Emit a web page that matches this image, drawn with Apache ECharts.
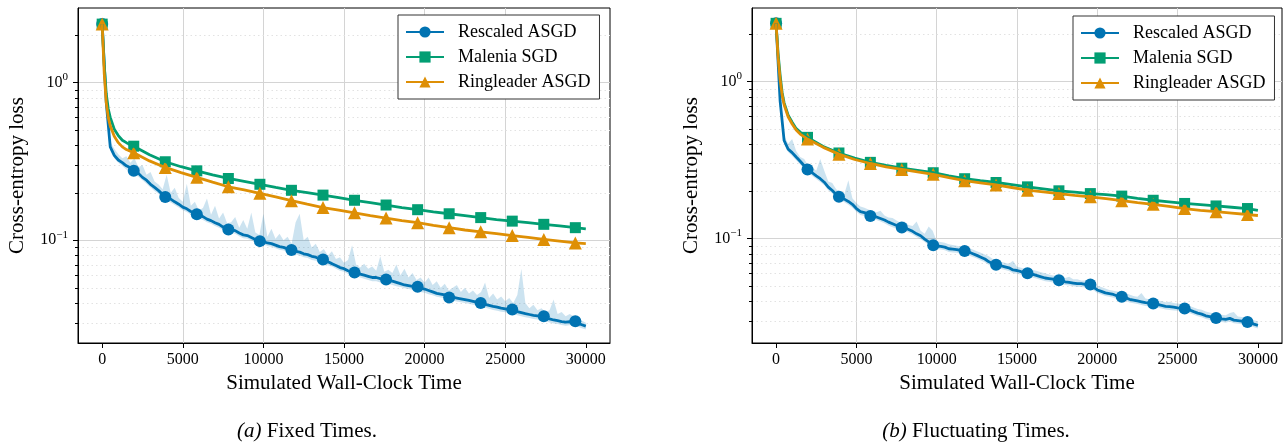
<!DOCTYPE html>
<html>
<head>
<meta charset="utf-8">
<script src="https://cdn.jsdelivr.net/npm/echarts@6/dist/echarts.min.js"></script>
<style>
html,body{margin:0;padding:0;background:#fff;}
#chart{width:1284px;height:444px;}
</style>
</head>
<body>
<div id="chart"></div>
<script>
// ---------------- data ----------------
const SERIES_NAMES = ['Rescaled ASGD', 'Malenia SGD', 'Ringleader ASGD'];
const CAPTION_TAGS = ['(a)', '(b)'];
const CAPTION_TEXTS = [' Fixed Times.', ' Fluctuating Times.'];
const X_LABEL = 'Simulated Wall-Clock Time';
const Y_LABEL = 'Cross-entropy loss';
const X_TICKS = [0, 5000, 10000, 15000, 20000, 25000, 30000];
const X_RANGE = [-1500, 31500];
const Y_RANGE_A = [0.0223, 2.96];
const Y_RANGE_B = [0.0216, 2.93];
const Y_MAJOR = [0.1, 1];
const Y_MINOR = [0.03, 0.04, 0.05, 0.06, 0.07, 0.08, 0.09, 0.2, 0.3, 0.4, 0.5, 0.6, 0.7, 0.8, 0.9, 2];

// time grid of the noisy (Rescaled ASGD) runs: every 250 time units
const NOISY_T = [];
for (let i = 0; i <= 120; i++) NOISY_T.push(i * 250);
// time grid of the smooth runs
const SMOOTH_T = [0, 125, 250, 375, 500, 750, 1000, 1250, 1500,
  1957, 2935, 3913, 4892, 5870, 6848, 7827, 8805, 9783, 10762, 11740, 12718, 13697, 14675,
  15653, 16632, 17610, 18588, 19567, 20545, 21523, 22502, 23480, 24458, 25437, 26415, 27393,
  28372, 29350, 30000];
// times where markers are drawn
const MARK_T = [0, 1957, 3913, 5870, 7827, 9783, 11740, 13697, 15653, 17610, 19567, 21523,
  23480, 25437, 27393, 29350];

// (a) Fixed Times
const A_RESCALED = [2.34,0.75,0.39,0.345,0.322,0.31,0.296,0.288,0.272,0.265,
0.25,0.24,0.226,0.216,0.206,0.195,0.187,0.182,0.175,0.169,
0.162,0.158,0.152,0.148,0.144,0.141,0.136,0.133,0.129,0.126,
0.121,0.118,0.116,0.115,0.111,0.108,0.107,0.104,0.101,0.099,
0.098,0.096,0.095,0.093,0.091,0.09,0.088,0.086,0.085,0.084,
0.082,0.081,0.079,0.078,0.076,0.075,0.073,0.071,0.069,0.067,
0.066,0.064,0.063,0.062,0.061,0.06,0.059,0.058,0.058,0.057,
0.056,0.0555,0.055,0.054,0.053,0.052,0.0515,0.051,0.0505,0.0497,
0.049,0.048,0.047,0.046,0.0455,0.045,0.044,0.0435,0.043,0.0425,
0.042,0.0415,0.041,0.0405,0.04,0.0392,0.0386,0.038,0.0376,0.0371,
0.0367,0.0363,0.036,0.0352,0.0347,0.0342,0.0338,0.0334,0.0331,0.0327,
0.0322,0.0317,0.0312,0.0309,0.0305,0.0302,0.0304,0.0306,0.0298,0.0291,
0.0285];
const A_RESCALED_HI = [2.36,0.8,0.42,0.38,0.35,0.33,0.34,0.31,0.33,0.29,
0.3,0.26,0.27,0.235,0.225,0.21,0.26,0.2,0.215,0.185,
0.175,0.228,0.165,0.175,0.155,0.16,0.184,0.145,0.165,0.137,
0.15,0.128,0.13,0.14,0.12,0.134,0.118,0.15,0.112,0.108,
0.147,0.105,0.118,0.102,0.11,0.1,0.105,0.095,0.13,0.147,
0.1,0.105,0.09,0.095,0.084,0.088,0.08,0.085,0.076,0.078,
0.072,0.075,0.093,0.07,0.067,0.071,0.066,0.068,0.064,0.079,
0.063,0.065,0.062,0.07,0.06,0.066,0.058,0.062,0.056,0.058,
0.054,0.058,0.052,0.055,0.05,0.053,0.048,0.05,0.052,0.047,
0.05,0.046,0.048,0.045,0.047,0.054,0.043,0.046,0.042,0.044,
0.041,0.043,0.04,0.045,0.066,0.04,0.037,0.039,0.036,0.037,
0.035,0.036,0.042,0.034,0.035,0.033,0.034,0.033,0.032,0.031,
0.03];
const A_RESCALED_LO = [2.32,0.7,0.37,0.33,0.31,0.295,0.28,0.27,0.26,0.252,
0.24,0.228,0.216,0.205,0.196,0.186,0.178,0.173,0.167,0.161,
0.155,0.151,0.145,0.141,0.137,0.134,0.13,0.127,0.123,0.12,
0.116,0.113,0.111,0.11,0.106,0.103,0.102,0.1,0.097,0.095,
0.094,0.092,0.091,0.089,0.087,0.086,0.084,0.082,0.081,0.08,
0.078,0.077,0.075,0.074,0.072,0.071,0.069,0.068,0.066,0.064,
0.063,0.061,0.06,0.059,0.058,0.057,0.056,0.055,0.055,0.054,
0.053,0.053,0.052,0.051,0.0505,0.0495,0.049,0.0485,0.048,0.047,
0.0465,0.0455,0.0447,0.0438,0.0433,0.0428,0.0418,0.0413,0.0408,0.0404,
0.04,0.0395,0.039,0.0385,0.038,0.0373,0.0367,0.0361,0.0357,0.0352,
0.0349,0.0345,0.0342,0.0334,0.033,0.0325,0.0321,0.0317,0.0314,0.0311,
0.0306,0.0301,0.0296,0.0294,0.029,0.0287,0.0289,0.0291,0.0283,0.0277,
0.0272];
const A_RESCALED_MARK = [2.34,0.275,0.188,0.146,0.117,0.0986,0.0865,0.0755,0.0624,0.0563,0.0506,0.0433,0.04,0.0364,0.033,0.0306];
const A_MALENIA = [2.34,1.3,0.85,0.68,0.6,0.505,0.46,0.43,0.415,
0.394,0.348,0.314,0.292,0.275,0.259,0.246,0.236,0.226,0.216,
0.207,0.2,0.193,0.186,0.179,0.173,0.167,0.161,0.156,0.151,
0.147,0.143,0.139,0.135,0.132,0.129,0.126,0.123,0.12,
0.118];
const A_RINGLEADER = [2.34,1.15,0.75,0.6,0.53,0.455,0.415,0.39,0.375,
0.358,0.318,0.289,0.268,0.25,0.233,0.218,0.208,0.198,0.188,
0.178,0.169,0.161,0.155,0.149,0.143,0.138,0.133,0.129,0.124,
0.12,0.116,0.113,0.11,0.107,0.104,0.101,0.0985,0.096,
0.095];

// (b) Fluctuating Times
const B_RESCALED = [2.34,0.75,0.42,0.37,0.352,0.33,0.31,0.29,0.274,0.262,
0.25,0.24,0.228,0.212,0.202,0.19,0.184,0.178,0.172,0.165,
0.155,0.148,0.146,0.142,0.14,0.137,0.134,0.131,0.127,0.124,
0.121,0.118,0.117,0.114,0.111,0.107,0.104,0.099,0.095,0.091,
0.0895,0.089,0.088,0.086,0.0855,0.085,0.084,0.0833,0.082,0.08,
0.078,0.076,0.074,0.071,0.069,0.068,0.067,0.066,0.065,0.063,
0.0625,0.0615,0.0608,0.0603,0.059,0.058,0.057,0.056,0.0555,0.055,
0.0545,0.054,0.053,0.0525,0.052,0.0515,0.0515,0.051,0.051,0.049,
0.047,0.046,0.045,0.0445,0.044,0.043,0.0425,0.042,0.041,0.0405,
0.04,0.0395,0.039,0.0388,0.0385,0.038,0.0375,0.037,0.0368,0.0365,
0.0362,0.036,0.0357,0.035,0.0342,0.0335,0.033,0.0322,0.0318,0.0313,
0.0312,0.0308,0.0305,0.031,0.0302,0.03,0.0298,0.0295,0.0292,0.0285,
0.028];
const B_RESCALED_HI = [2.36,0.82,0.45,0.4,0.43,0.36,0.33,0.32,0.29,0.285,
0.27,0.32,0.27,0.23,0.225,0.205,0.2,0.192,0.235,0.18,
0.168,0.16,0.157,0.153,0.15,0.147,0.15,0.14,0.136,0.135,
0.13,0.126,0.128,0.122,0.12,0.128,0.112,0.107,0.119,0.112,
0.096,0.095,0.094,0.092,0.091,0.09,0.089,0.088,0.087,0.085,
0.083,0.081,0.079,0.077,0.074,0.072,0.071,0.07,0.069,0.072,
0.066,0.065,0.064,0.064,0.063,0.062,0.061,0.06,0.059,0.058,
0.058,0.057,0.056,0.057,0.055,0.055,0.054,0.054,0.054,0.052,
0.05,0.049,0.048,0.047,0.0465,0.046,0.045,0.045,0.044,0.043,
0.0425,0.045,0.0415,0.041,0.0408,0.0403,0.04,0.0393,0.0395,0.0388,
0.0385,0.0382,0.0379,0.0372,0.0363,0.0356,0.0352,0.0343,0.0338,0.0333,
0.0331,0.0327,0.0324,0.0335,0.034,0.0318,0.0316,0.0313,0.031,0.0302,
0.0297];
const B_RESCALED_LO = [2.32,0.7,0.4,0.355,0.335,0.315,0.296,0.277,0.262,0.25,
0.239,0.229,0.218,0.203,0.193,0.181,0.176,0.17,0.164,0.157,
0.148,0.141,0.139,0.135,0.134,0.131,0.128,0.125,0.121,0.118,
0.115,0.113,0.112,0.109,0.106,0.102,0.099,0.095,0.091,0.087,
0.0855,0.085,0.084,0.082,0.0815,0.081,0.08,0.0795,0.078,0.0763,
0.0744,0.0725,0.0706,0.0677,0.0658,0.0649,0.0639,0.063,0.062,0.0601,
0.0596,0.0587,0.058,0.0575,0.0563,0.0553,0.0544,0.0534,0.053,0.0525,
0.052,0.0515,0.0506,0.0501,0.0496,0.0491,0.0491,0.0487,0.0487,0.0468,
0.0449,0.0439,0.043,0.0425,0.042,0.041,0.0406,0.0401,0.0391,0.0387,
0.0382,0.0377,0.0372,0.037,0.0368,0.0363,0.0358,0.0353,0.0351,0.0348,
0.0346,0.0344,0.0341,0.0334,0.0327,0.032,0.0315,0.0307,0.0303,0.0299,
0.0298,0.0294,0.0291,0.0296,0.0288,0.0286,0.0284,0.0281,0.0279,0.0272,
0.0267];
const B_RESCALED_MARK = [2.34,0.275,0.184,0.139,0.1175,0.0906,0.0833,0.0679,0.0601,0.0542,0.0509,0.0425,0.0385,0.0358,0.0312,0.0294];
const B_MALENIA = [2.34,1.5,1.1,0.85,0.73,0.61,0.55,0.5,0.475,
0.44,0.385,0.35,0.325,0.305,0.292,0.28,0.271,0.262,0.25,
0.24,0.233,0.227,0.22,0.213,0.207,0.201,0.197,0.193,0.19,
0.186,0.18,0.175,0.171,0.167,0.164,0.161,0.158,0.155,
0.151];
const B_RINGLEADER = [2.34,1.42,1.03,0.82,0.71,0.595,0.535,0.49,0.462,
0.429,0.38,0.344,0.318,0.3,0.285,0.275,0.265,0.256,0.244,
0.233,0.226,0.219,0.211,0.203,0.198,0.193,0.188,0.184,0.179,
0.174,0.169,0.165,0.16,0.155,0.151,0.148,0.145,0.142,
0.14];

// ---------------- styling ----------------
const FONT = '"Liberation Serif", "Times New Roman", serif';
const COLORS = ['#0173b2', '#029e73', '#de8f05'];
const SYMBOLS = ['circle', 'rect', 'triangle'];
const SYMBOL_SIZES = [12, 11, 13];
const BAND_COLOR = 'rgba(1,115,178,0.2)';
const GRID_COLOR = '#d4d4d4';
const MINOR_GRID_COLOR = '#e2e2e2';

const PANELS = [
  { left: 78, width: 532, yRange: Y_RANGE_A, legendLeft: 398, legendTop: 15, captionX: 307,
    rescaled: A_RESCALED, hi: A_RESCALED_HI, lo: A_RESCALED_LO, mark: A_RESCALED_MARK,
    malenia: A_MALENIA, ringleader: A_RINGLEADER },
  { left: 752, width: 530, yRange: Y_RANGE_B, legendLeft: 1073, legendTop: 16, captionX: 976,
    rescaled: B_RESCALED, hi: B_RESCALED_HI, lo: B_RESCALED_LO, mark: B_RESCALED_MARK,
    malenia: B_MALENIA, ringleader: B_RINGLEADER }
];

function logLabel(v) {
  const e = Math.log10(v);
  const r = Math.round(e);
  if (Math.abs(e - r) > 1e-6) return '';
  return '{b|10}{s|' + (r < 0 ? '\u2212' + (-r) : String(r)) + '}';
}

function pairs(ts, vs) { return ts.map((t, i) => [t, vs[i]]); }
function pick(ts, vs, marks) { return marks.map(t => [t, vs[ts.indexOf(t)]]); }

function bandSeries(p, hi, lo) {
  return {
    type: 'custom', xAxisIndex: p, yAxisIndex: p, silent: true, z: 1, clip: true,
    data: [[NOISY_T[0], hi[0]]],
    encode: { x: 0, y: 1 },
    renderItem: function (params, api) {
      const pts = [];
      for (let i = 0; i < NOISY_T.length; i++) pts.push(api.coord([NOISY_T[i], hi[i]]));
      for (let i = NOISY_T.length - 1; i >= 0; i--) pts.push(api.coord([NOISY_T[i], lo[i]]));
      return { type: 'polygon', shape: { points: pts }, style: { fill: BAND_COLOR, stroke: null } };
    }
  };
}

function yTickSeries(p, vals, len, withGrid) {
  return {
    type: 'custom', xAxisIndex: p, yAxisIndex: p, silent: true, z: 0, clip: false,
    data: vals.map(v => [X_RANGE[0], v]),
    encode: { x: 0, y: 1 },
    renderItem: function (params, api) {
      const cs = params.coordSys;
      const pt = api.coord([api.value(0), api.value(1)]);
      const y = Math.round(pt[1]) + 0.5;
      const children = [
        { type: 'line', shape: { x1: cs.x - len, y1: y, x2: cs.x, y2: y },
          style: { stroke: '#000', lineWidth: 1 } }
      ];
      if (withGrid) {
        children.push({ type: 'line', shape: { x1: cs.x, y1: y, x2: cs.x + cs.width, y2: y },
          style: { stroke: MINOR_GRID_COLOR, lineWidth: 1, lineDash: [1.5, 3] } });
      }
      return { type: 'group', children: children };
    }
  };
}

const grids = [], xAxes = [], yAxes = [], series = [], legends = [], titles = [];

PANELS.forEach((P, p) => {
  grids.push({ left: P.left, top: 8, width: P.width, height: 335, show: true,
    borderColor: '#000', borderWidth: 1, backgroundColor: 'transparent', containLabel: false });

  xAxes.push({
    gridIndex: p, type: 'value', min: X_RANGE[0], max: X_RANGE[1],
    name: X_LABEL, nameLocation: 'middle', nameGap: 30,
    nameTextStyle: { fontFamily: FONT, fontSize: 21, color: '#000' },
    axisLine: { show: true, onZero: false, lineStyle: { color: '#000', width: 1 } },
    axisTick: { show: true, customValues: X_TICKS, length: 5, lineStyle: { color: '#000', width: 1 } },
    axisLabel: { customValues: X_TICKS, formatter: v => String(v), fontFamily: FONT, fontSize: 16, color: '#000', margin: 9 },
    splitLine: { show: true, showMinLine: false, showMaxLine: false, lineStyle: { color: GRID_COLOR, width: 1 } }
  });

  yAxes.push({
    gridIndex: p, type: 'log', logBase: 10, min: P.yRange[0], max: P.yRange[1],
    name: Y_LABEL, nameLocation: 'middle', nameGap: 50,
    nameTextStyle: { fontFamily: FONT, fontSize: 21, color: '#000' },
    axisLine: { show: true, onZero: false, lineStyle: { color: '#000', width: 1 } },
    axisTick: { show: false },
    axisLabel: {
      formatter: logLabel, margin: 10, showMinLabel: true, showMaxLabel: true,
      rich: {
        b: { fontFamily: FONT, fontSize: 16, color: '#000' },
        s: { fontFamily: FONT, fontSize: 11, color: '#000', padding: [0, 0, 10, 0] }
      }
    },
    splitLine: { show: true, showMinLine: false, showMaxLine: false, lineStyle: { color: GRID_COLOR, width: 1 } }
  });

  series.push(yTickSeries(p, Y_MINOR, 3, true));
  series.push(yTickSeries(p, Y_MAJOR, 5, false));
  series.push(bandSeries(p, P.hi, P.lo));

  const lines = [
    { data: pairs(NOISY_T, P.rescaled), marks: pairs(MARK_T, P.mark) },
    { data: pairs(SMOOTH_T, P.malenia), marks: pick(SMOOTH_T, P.malenia, MARK_T) },
    { data: pairs(SMOOTH_T, P.ringleader), marks: pick(SMOOTH_T, P.ringleader, MARK_T) }
  ];
  lines.forEach((L, k) => {
    series.push({
      name: SERIES_NAMES[k], type: 'line', xAxisIndex: p, yAxisIndex: p,
      data: L.data, showSymbol: false, symbol: SYMBOLS[k], symbolSize: SYMBOL_SIZES[k],
      lineStyle: { color: COLORS[k], width: 2.8 }, itemStyle: { color: COLORS[k] },
      silent: true, clip: true
    });
    series.push({
      name: SERIES_NAMES[k] + ' markers', type: 'scatter', xAxisIndex: p, yAxisIndex: p,
      data: L.marks, symbol: SYMBOLS[k], symbolSize: SYMBOL_SIZES[k],
      itemStyle: { color: COLORS[k], opacity: 1 }, silent: true
    });
  });

  legends.push({
    data: SERIES_NAMES, orient: 'vertical', left: P.legendLeft, top: P.legendTop,
    padding: [8, 9, 8, 7], itemWidth: 38, itemHeight: 14, itemGap: 7,
    borderColor: '#333', borderWidth: 1, borderRadius: 0, backgroundColor: '#fff',
    selectedMode: false,
    textStyle: { fontFamily: FONT, fontSize: 18, color: '#000', padding: [0, 0, 0, 9] }
  });

  titles.push({
    text: '{i|' + CAPTION_TAGS[p] + '}{r|' + CAPTION_TEXTS[p] + '}',
    left: P.captionX, top: 421, textAlign: 'center', padding: 0,
    textStyle: {
      fontWeight: 'normal',
      rich: {
        i: { fontFamily: FONT, fontStyle: 'italic', fontWeight: 'normal', fontSize: 21, color: '#000' },
        r: { fontFamily: FONT, fontWeight: 'normal', fontSize: 21, color: '#000' }
      }
    }
  });
});

const chart = echarts.init(document.getElementById('chart'), null, { renderer: 'canvas' });
chart.setOption({
  animation: false,
  backgroundColor: '#fff',
  title: titles,
  grid: grids,
  xAxis: xAxes,
  yAxis: yAxes,
  legend: legends,
  series: series
});
</script>
</body>
</html>
